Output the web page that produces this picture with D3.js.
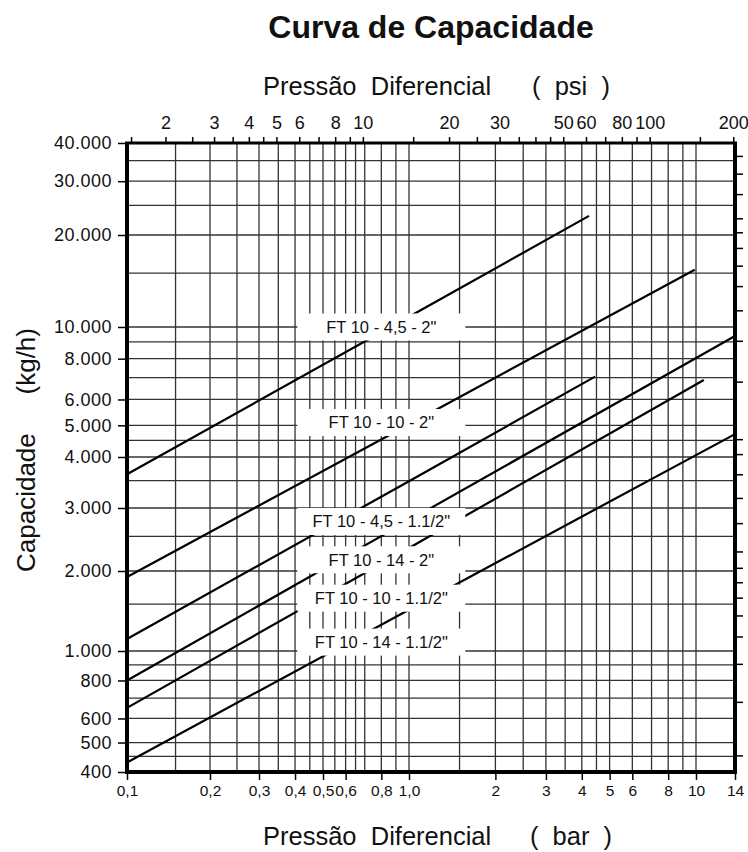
<!DOCTYPE html>
<html>
<head>
<meta charset="utf-8">
<script src="https://cdn.jsdelivr.net/npm/d3@7"></script>
<style>
  body { margin: 0; background: #fff; }
  svg text { font-family: "Liberation Sans", Arial, sans-serif; fill: #111; }
</style>
</head>
<body>
<svg id="chart" width="748" height="852"></svg>
<script>
// Data ----------------------------------------------------------------------------

// curves: pressão diferencial (bar) and capacidade (kg/h)
var seriesNames = ['FT 10 - 4,5 - 2"', 'FT 10 - 10 - 2"', 'FT 10 - 4,5 - 1.1/2"',
                   'FT 10 - 14 - 2"', 'FT 10 - 10 - 1.1/2"', 'FT 10 - 14 - 1.1/2"'];
var seriesBar = [
    [0.1, 1, 4.24],
    [0.1, 1, 9.9],
    [0.1, 1, 4.45],
    [0.1, 1, 14],
    [0.1, 1, 10.7],
    [0.1, 1, 14]
];
var seriesKg = [
    [3630, 10800, 23100],
    [1900, 5030, 15400],
    [1110, 3490, 7050],
    [800, 2770, 9390],
    [650, 2320, 6880],
    [430, 1430, 4700]
];
// where each curve name is written (bar, kg/h)
var labelBar = [0.8, 0.8, 0.8, 0.8, 0.8, 0.8];
var labelKg = [10000, 5100, 2750, 2150, 1580, 1080];

// bottom axis (bar)
var barTicks = [0.1, 0.2, 0.3, 0.4, 0.5, 0.6, 0.8, 1, 2, 3, 4, 5, 6, 8, 10, 14];
var barTickLabels = ["0,1", "0,2", "0,3", "0,4", "0,5", "0,6", "0,8", "1,0", "2", "3", "4", "5", "6", "8", "10", "14"];
var barGrid = [0.15, 0.2, 0.25, 0.3, 0.35, 0.4, 0.45, 0.5, 0.55, 0.6, 0.65, 0.7, 0.8, 0.9, 1,
               1.5, 2, 2.5, 3, 3.5, 4, 4.5, 5, 6, 7, 8, 9, 10];

// top axis (psi)
var psiTicks = [1.5, 2, 2.5, 3, 3.5, 4, 4.5, 5, 6, 7, 8, 9, 10, 15, 20, 25, 30, 35, 40, 45, 50,
                60, 70, 80, 90, 100, 150, 200];
var psiLabels = [2, 3, 4, 5, 6, 8, 10, 20, 30, 50, 60, 80, 100, 200];

// left axis (kg/h)
var kgTicks = [400, 500, 600, 800, 1000, 2000, 3000, 4000, 5000, 6000, 8000, 10000, 20000, 30000, 40000];
var kgTickLabels = ["400", "500", "600", "800", "1.000", "2.000", "3.000", "4.000", "5.000", "6.000",
                    "8.000", "10.000", "20.000", "30.000", "40.000"];
var kgGrid = [450, 500, 600, 700, 800, 900, 1000, 1500, 2000, 2500, 3000, 3500, 4000, 4500, 5000,
              6000, 7000, 8000, 9000, 10000, 15000, 20000, 25000, 30000, 35000];

// right edge marks (lb/h, no labels)
var lbTicks = [1000, 1500, 2000, 2500, 3000, 3500, 4000, 4500, 5000, 6000, 7000, 8000, 9000, 10000,
               15000, 20000, 25000, 30000, 35000, 40000, 45000, 50000, 60000, 70000, 80000];

// Setup ---------------------------------------------------------------------------

var svg = d3.select("#chart");
var plotL = 127, plotR = 735, plotT = 143, plotB = 772;

// the printed chart is not a clean log grid, so the scales are piecewise
var x = d3.scaleLog()
    .domain([0.1, 0.2, 0.3, 0.5, 1, 10, 14])
    .range([127, 210, 259, 323, 409, 696, 735]);
var psi = d3.scaleLog()
    .domain(x.domain().map(function (d) { return d * 14.5038; }))
    .range(x.range());
var y = d3.scaleLog()
    .domain([400, 1000, 2000, 3000, 4000, 10000, 40000])
    .range([772, 651, 571, 508, 457, 327, 143]);

// Grid ----------------------------------------------------------------------------

var grid = svg.append("g")
    .attr("stroke", "#333")
    .attr("stroke-width", 1.3);

grid.selectAll(".v").data(barGrid).enter().append("line")
    .attr("x1", function (d) { return x(d); })
    .attr("x2", function (d) { return x(d); })
    .attr("y1", plotT).attr("y2", plotB);

grid.selectAll(".h").data(kgGrid).enter().append("line")
    .attr("x1", plotL).attr("x2", plotR)
    .attr("y1", function (d) { return y(d); })
    .attr("y2", function (d) { return y(d); });

// Curves --------------------------------------------------------------------------

var line = d3.line()
    .x(function (d) { return x(d[0]); })
    .y(function (d) { return y(d[1]); });

for (var i = 0; i < seriesNames.length; i++) {
    var pts = seriesBar[i].map(function (b, j) { return [b, seriesKg[i][j]]; });
    svg.append("path")
        .datum(pts)
        .attr("d", line)
        .attr("fill", "none")
        .attr("stroke", "#000")
        .attr("stroke-width", 2.2);
}

// Curve names (white boxes over the grid)
var boxW = 168, boxH = 27;
for (var i = 0; i < seriesNames.length; i++) {
    var cx = x(labelBar[i]), cy = y(labelKg[i]);
    svg.append("rect")
        .attr("x", cx - boxW / 2).attr("y", cy - boxH / 2)
        .attr("width", boxW).attr("height", boxH)
        .attr("fill", "#fff");
    svg.append("text")
        .attr("x", cx).attr("y", cy)
        .attr("dy", "0.36em")
        .attr("text-anchor", "middle")
        .style("font-size", "16.5px")
        .text(seriesNames[i]);
}

// Axes ----------------------------------------------------------------------------

function styleAxis(g, size) {
    g.select(".domain").remove();
    g.selectAll(".tick line").attr("stroke", "#000").attr("stroke-width", 1.5);
    g.selectAll(".tick text").style("font-size", size).attr("fill", "#111");
}

svg.append("g")
    .attr("transform", "translate(" + plotL + ",0)")
    .call(d3.axisLeft(y).tickValues(kgTicks)
        .tickFormat(function (d, i) { return kgTickLabels[i]; })
        .tickSize(9).tickPadding(6))
    .call(styleAxis, "18px")
    .selectAll(".tick text").style("letter-spacing", "0.5px");

svg.append("g")
    .attr("transform", "translate(" + plotR + ",0)")
    .call(d3.axisRight(y).tickValues(lbTicks.map(function (d) { return d * 0.45359; }))
        .tickFormat("").tickSize(8))
    .call(styleAxis, "10px");

svg.append("g")
    .attr("transform", "translate(0," + plotB + ")")
    .call(d3.axisBottom(x).tickValues(barTicks)
        .tickFormat(function (d, i) { return barTickLabels[i]; })
        .tickSize(8).tickPadding(5))
    .call(styleAxis, "15.5px");

svg.append("g")
    .attr("transform", "translate(0," + plotT + ")")
    .call(d3.axisTop(psi).tickValues(psiTicks)
        .tickFormat(function (d) { return psiLabels.indexOf(d) >= 0 ? d : ""; })
        .tickSize(6).tickPadding(8))
    .call(styleAxis, "18px");

// frame
var frame = svg.append("g").attr("stroke", "#000");
frame.append("line").attr("x1", plotL).attr("x2", plotL).attr("y1", plotT - 1).attr("y2", plotB + 2).attr("stroke-width", 4);
frame.append("line").attr("x1", plotR).attr("x2", plotR).attr("y1", plotT - 1).attr("y2", plotB + 2).attr("stroke-width", 4);
frame.append("line").attr("x1", plotL - 2).attr("x2", plotR + 2).attr("y1", plotB).attr("y2", plotB).attr("stroke-width", 4);
frame.append("line").attr("x1", plotL - 2).attr("x2", plotR + 2).attr("y1", plotT).attr("y2", plotT).attr("stroke-width", 3);

// Titles --------------------------------------------------------------------------

svg.append("text")
    .attr("x", 431).attr("y", 38)
    .attr("text-anchor", "middle")
    .style("font-size", "32px").style("font-weight", "bold")
    .text("Curva de Capacidade");

function axisTitle(yPos, unit) {
    svg.append("text")
        .attr("x", 263).attr("y", yPos)
        .style("font-size", "25.5px").style("white-space", "pre")
        .text("Pressão  Diferencial");
    svg.append("text")
        .attr("x", 571).attr("y", yPos)
        .attr("text-anchor", "middle")
        .style("font-size", "25.5px").style("white-space", "pre")
        .text("(  " + unit + "  )");
}
axisTitle(95, "psi");
axisTitle(845, "bar");

svg.append("text")
    .attr("transform", "translate(35,572) rotate(-90)")
    .style("font-size", "26px")
    .text("Capacidade");
svg.append("text")
    .attr("transform", "translate(35,328) rotate(-90)")
    .attr("text-anchor", "end")
    .style("font-size", "26px")
    .text("(kg/h)");
</script>
</body>
</html>
